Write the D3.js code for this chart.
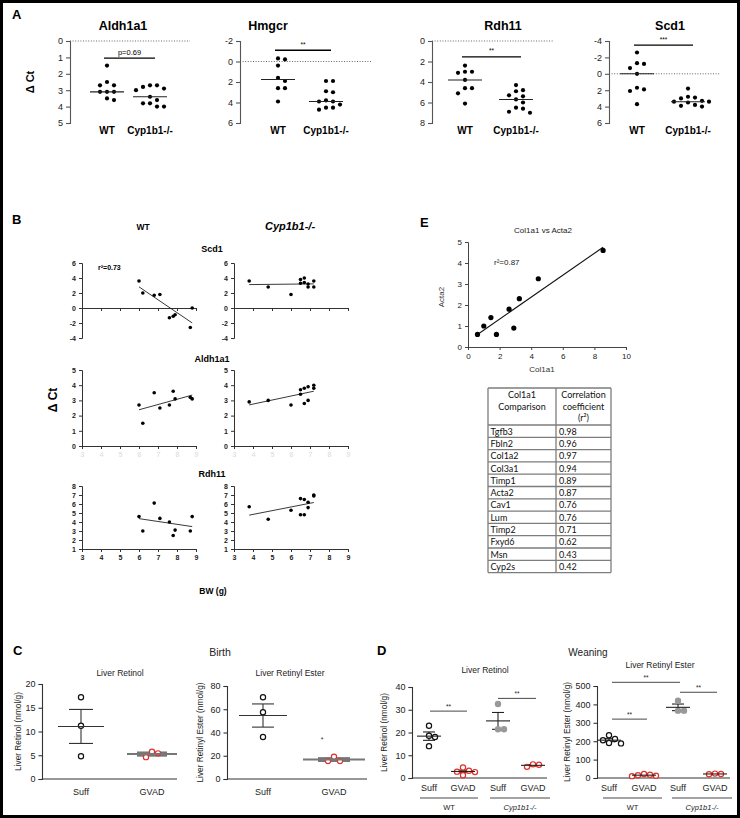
<!DOCTYPE html>
<html><head><meta charset="utf-8">
<script src="https://cdn.jsdelivr.net/npm/d3@7"></script>
<style>body{margin:0;background:#fff}svg{display:block;font-family:"Liberation Sans",Arial,sans-serif}</style>
</head><body><svg id="c" width="740" height="818"></svg>
<script>
// ---------- DATA ----------
const groupsA = ["WT", "Cyp1b1-/-"];
const genesA = ["Aldh1a1", "Hmgcr", "Rdh11", "Scd1"];
const aldh1a1WT = [1.5, 2.5, 2.7, 2.7, 3.1, 3.1, 3.1, 3.5, 3.6];
const aldh1a1KO = [2.7, 2.7, 2.8, 2.9, 3.0, 3.4, 3.6, 3.8, 3.8, 4.0, 4.0];
const hmgcrWT = [-0.3, -0.2, 0.4, 1.6, 1.9, 2.6, 2.6, 3.9];
const hmgcrKO = [1.9, 1.9, 2.9, 3.0, 3.8, 3.9, 3.9, 4.2, 4.5, 4.5, 4.7];
const rdh11WT = [2.4, 3.0, 3.0, 3.1, 3.8, 4.6, 4.6, 5.1, 6.1];
const rdh11KO = [4.3, 4.8, 4.9, 5.3, 5.4, 5.7, 6.0, 6.5, 6.6, 6.9, 7.0];
const scd1WT = [-2.6, -1.3, -1.2, -0.7, 0.0, 1.7, 1.9, 2.1, 3.7];
const scd1KO = [1.8, 2.8, 2.9, 3.0, 3.3, 3.4, 3.4, 3.5, 3.8, 3.9, 4.0];
const domainsA = [[0, 5], [-2, 6], [0, 8], [-4, 6]];
const ticksA = [[0, 1, 2, 3, 4, 5], [-2, 0, 2, 4, 6], [0, 2, 4, 6, 8], [-4, -2, 0, 2, 4, 6]];
const sigLabelsA = ["p=0.69", "**", "**", "***"];
const sigLevelsA = [1.05, -1.1, 1.55, -3.5];

// Panel B (body weight vs ΔCt)
const bwWT = [6.0, 6.2, 6.8, 7.1, 7.6, 7.8, 7.9, 8.8, 8.7];
const bwKO = [3.8, 4.8, 6.0, 6.5, 6.5, 6.7, 6.7, 6.9, 6.9, 7.2, 7.2];
const scd1CorrWT = [3.6, 2.0, 1.7, 1.8, -1.3, -1.1, -0.9, 0.0, -2.6];
const scd1CorrKO = [3.6, 2.8, 1.8, 3.8, 3.3, 4.0, 3.4, 3.2, 2.8, 3.6, 2.8];
const aldh1a1CorrWT = [2.7, 1.5, 3.5, 2.5, 2.7, 3.6, 3.1, 3.1, 3.2];
const aldh1a1CorrKO = [2.9, 3.0, 2.7, 3.7, 3.4, 3.8, 2.8, 3.9, 3.0, 4.0, 3.8];
const rdh11CorrWT = [4.6, 3.0, 6.1, 4.4, 4.0, 2.5, 3.1, 4.6, 3.0];
const rdh11CorrKO = [5.7, 4.3, 5.3, 6.6, 4.8, 6.5, 4.8, 6.2, 5.6, 7.0, 6.9];
const bwTicks = [3, 4, 5, 6, 7, 8, 9];

// Panel E
const col1a1 = [0.6, 1.0, 1.45, 1.8, 2.6, 2.9, 3.25, 4.45, 8.55];
const acta2 = [0.6, 1.0, 1.4, 0.6, 1.8, 0.9, 2.3, 3.25, 4.6];
const tableGenes = ["Tgfb3", "Fbln2", "Col1a2", "Col3a1", "Timp1", "Acta2", "Cav1", "Lum", "Timp2", "Fxyd6", "Msn", "Cyp2s"];
const tableR2 = ["0.98", "0.96", "0.97", "0.94", "0.89", "0.87", "0.76", "0.76", "0.71", "0.62", "0.43", "0.42"];

// Panel C (birth)
const dietGroups = ["Suff", "GVAD"];
const birthRetinolSuff = [17.2, 11.2, 4.8];
const birthRetinolGVAD = [5.75, 4.6, 5.4];
const birthEsterSuff = [70.3, 57.4, 36.1];
const birthEsterGVAD = [19.2, 15.5, 15.5];

// Panel D (weaning)
const weanRetinolWTSuff = [23.0, 18.6, 18.0, 14.0];
const weanRetinolWTGVAD = [4.6, 3.2, 2.8, 2.6, 1.2];
const weanRetinolKOSuff = [32.5, 21.4, 21.4];
const weanRetinolKOGVAD = [6.0, 5.8, 4.9];
const weanEsterWTSuff = [233, 212, 205, 190, 188];
const weanEsterWTGVAD = [22, 18, 15, 12, 10];
const weanEsterKOSuff = [420, 366, 366];
const weanEsterKOGVAD = [24, 22, 20];

// ---------- HELPERS ----------
const svg = d3.select("#c");
svg.append("rect").attr("width", 740).attr("height", 818).attr("fill", "#fff");

function txt(g, x, y, s, o = {}) {
  const t = g.append("text").attr("x", x).attr("y", y).text(s)
    .attr("font-size", o.size || 10)
    .attr("font-weight", o.bold ? "bold" : "normal")
    .attr("text-anchor", o.anchor || "middle")
    .attr("fill", o.fill || "#000");
  if (o.italic) t.attr("font-style", "italic");
  if (o.family) t.attr("font-family", o.family);
  if (o.rotate) t.attr("transform", `rotate(-90,${x},${y})`);
  return t;
}
function styleAxis(a, color, fs, bold, width) {
  a.select(".domain").attr("stroke", color).attr("stroke-width", width || 1);
  a.selectAll(".tick line").attr("stroke", color).attr("stroke-width", width || 1);
  a.selectAll(".tick text").attr("font-size", fs).attr("fill", "#222")
    .attr("font-weight", bold ? "bold" : "normal")
    .attr("font-family", '"Liberation Sans", Arial, sans-serif');
}
function swarm(vals, y, cx, step, minD) {
  const pts = vals.map(v => ({ v, y: y(v) })).sort((a, b) => a.y - b.y);
  const placed = [];
  pts.forEach(p => {
    for (let k = 0; k < 30; k++) {
      const off = k === 0 ? 0 : (k % 2 ? 1 : -1) * Math.ceil(k / 2) * step;
      const x = cx + off;
      if (placed.every(q => Math.hypot(q.x - x, q.y - p.y) >= minD)) { p.x = x; placed.push(p); break; }
    }
  });
  return placed;
}
function fit(xs, ys) {
  const mx = d3.mean(xs), my = d3.mean(ys);
  let sxy = 0, sxx = 0;
  xs.forEach((x, i) => { sxy += (x - mx) * (ys[i] - my); sxx += (x - mx) * (x - mx); });
  const b = sxy / sxx, a = my - b * mx;
  const x0 = d3.min(xs), x1 = d3.max(xs);
  return [[x0, a + b * x0], [x1, a + b * x1]];
}

// ---------- PANEL A ----------
txt(svg, 12, 19, "A", { size: 13, bold: true, anchor: "start" });
txt(svg, 34, 82, "Δ Ct", { size: 11, bold: true, rotate: true });
const layoutA = [
  { ax: 70, wt: 107, ko: 150, tx: 123, end: 190 },
  { ax: 240, wt: 278, ko: 326, tx: 268, end: 372 },
  { ax: 432, wt: 465, ko: 516, tx: 503, end: 553 },
  { ax: 609, wt: 637, ko: 688, tx: 670, end: 720 }
];
const dataA = [[aldh1a1WT, aldh1a1KO], [hmgcrWT, hmgcrKO], [rdh11WT, rdh11KO], [scd1WT, scd1KO]];
genesA.forEach((gene, i) => {
  const L = layoutA[i];
  const g = svg.append("g");
  const y = d3.scaleLinear().domain(domainsA[i]).range([41, 123]);
  const x = d3.scalePoint().domain(groupsA).range([L.wt, L.ko]);
  txt(g, L.tx, 30, gene, { size: 12.5, bold: true });
  g.append("line").attr("x1", L.ax).attr("x2", L.end).attr("y1", y(0)).attr("y2", y(0))
    .attr("stroke", "#666").attr("stroke-dasharray", "1,1.6");
  const a = g.append("g").attr("transform", `translate(${L.ax},0)`)
    .call(d3.axisLeft(y).tickValues(ticksA[i]).tickSize(4).tickFormat(d => String(d)));
  styleAxis(a, "#555", 9, false, 1.1);
  groupsA.forEach((grp, j) => {
    const vals = dataA[i][j];
    const cx = x(grp);
    swarm(vals, y, cx, 7, 5.2).forEach(p => {
      g.append("circle").attr("cx", p.x).attr("cy", p.y).attr("r", 2.1).attr("fill", "#000");
    });
    const med = d3.median(vals);
    g.append("line").attr("x1", cx - 17).attr("x2", cx + 17).attr("y1", y(med)).attr("y2", y(med))
      .attr("stroke", "#222").attr("stroke-width", 1.1);
    txt(g, cx, 134, grp, { size: 10, bold: true });
  });
  const sy = y(sigLevelsA[i]);
  g.append("line").attr("x1", x(groupsA[0]) - 3).attr("x2", x(groupsA[1]) + 5).attr("y1", sy).attr("y2", sy)
    .attr("stroke", "#000").attr("stroke-width", 1.3);
  txt(g, (x(groupsA[0]) + x(groupsA[1])) / 2 + 1, sy - 3.5, sigLabelsA[i], { size: i === 0 ? 7.5 : 6.5 });
});

// ---------- PANEL B ----------
txt(svg, 12, 224, "B", { size: 13, bold: true, anchor: "start" });
txt(svg, 143, 230, "WT", { size: 8.5, bold: true });
txt(svg, 290, 230, "Cyp1b1-/-", { size: 11, bold: true, italic: true });
txt(svg, 57, 400, "Δ Ct", { size: 12, bold: true, rotate: true });
txt(svg, 213, 594, "BW (g)", { size: 8.5, bold: true });
const rowsB = [
  { name: "Scd1", ty: 252, dom: [-4, 6], rng: [338, 263], ticks: [-4, -2, 0, 2, 4, 6], xAt: 0, wt: scd1CorrWT, ko: scd1CorrKO, lab: false, r2: "r²=0.73" },
  { name: "Aldh1a1", ty: 362, dom: [0, 5], rng: [446, 370], ticks: [0, 1, 2, 3, 4, 5], xAt: 0, wt: aldh1a1CorrWT, ko: aldh1a1CorrKO, lab: "faint" },
  { name: "Rdh11", ty: 477, dom: [1, 8], rng: [549, 486], ticks: [1, 2, 3, 4, 5, 6, 7, 8], xAt: 1, wt: rdh11CorrWT, ko: rdh11CorrKO, lab: true }
];
rowsB.forEach(R => {
  txt(svg, 212, R.ty, R.name, { size: 9, bold: true });
  [[82, bwWT, R.wt], [234, bwKO, R.ko]].forEach(([ax, xs, ys], k) => {
    const g = svg.append("g");
    const x = d3.scaleLinear().domain([3, 9]).range([ax, ax + 114]);
    const y = d3.scaleLinear().domain(R.dom).range(R.rng);
    const ya = g.append("g").attr("transform", `translate(${ax},0)`)
      .call(d3.axisLeft(y).tickValues(R.ticks).tickSize(3).tickFormat(d => String(d)));
    styleAxis(ya, "#333", 7, true);
    const xa = g.append("g").attr("transform", `translate(0,${y(R.xAt)})`)
      .call(d3.axisBottom(x).tickValues(bwTicks).tickSize(3).tickFormat(d => String(d)));
    styleAxis(xa, "#333", 7, true);
    if (!R.lab) xa.selectAll(".tick text").remove();
    if (R.lab === "faint") xa.selectAll(".tick text").attr("fill", "#e4e4e4");
    const f = fit(xs, ys);
    g.append("line").attr("x1", x(f[0][0])).attr("y1", y(f[0][1])).attr("x2", x(f[1][0])).attr("y2", y(f[1][1]))
      .attr("stroke", "#222").attr("stroke-width", 0.9);
    xs.forEach((xv, i) => g.append("circle").attr("cx", x(xv)).attr("cy", y(ys[i])).attr("r", 1.8).attr("fill", "#000"));
    if (k === 0 && R.r2) txt(g, 98, 270, R.r2, { size: 7, bold: true, anchor: "start" });
  });
});

// ---------- PANEL E ----------
txt(svg, 420, 227, "E", { size: 13, bold: true, anchor: "start" });
{
  const g = svg.append("g");
  const x = d3.scaleLinear().domain([0, 10]).range([468, 626]);
  const y = d3.scaleLinear().domain([0, 5]).range([347, 242]);
  txt(g, 543, 233, "Col1a1 vs Acta2", { size: 8, fill: "#222" });
  const ya = g.append("g").attr("transform", "translate(468,0)").call(d3.axisLeft(y).ticks(5).tickSize(3));
  styleAxis(ya, "#444", 8);
  const xa = g.append("g").attr("transform", "translate(0,347)").call(d3.axisBottom(x).tickValues([0, 2, 4, 6, 8, 10]).tickSize(3));
  styleAxis(xa, "#444", 8);
  txt(g, 542, 372, "Col1a1", { size: 8, fill: "#333" });
  txt(g, 444, 297, "Acta2", { size: 8, fill: "#333", rotate: true });
  txt(g, 494, 265, "r²=0.87", { size: 8, fill: "#222", anchor: "start" });
  const f = fit(col1a1, acta2);
  g.append("line").attr("x1", x(f[0][0])).attr("y1", y(f[0][1])).attr("x2", x(f[1][0])).attr("y2", y(f[1][1]))
    .attr("stroke", "#111").attr("stroke-width", 1.1);
  col1a1.forEach((v, i) => g.append("circle").attr("cx", x(v)).attr("cy", y(acta2[i])).attr("r", 2.6).attr("fill", "#000"));
}
// table
{
  const g = svg.append("g");
  const L = 488, M = 556, R = 611, top = 388, hdr = 425, rh = 12.3;
  const bottom = hdr + rh * tableGenes.length;
  const ln = (x1, y1, x2, y2) => g.append("line").attr("x1", x1).attr("y1", y1).attr("x2", x2).attr("y2", y2)
    .attr("stroke", "#7d7d7d").attr("stroke-width", 1.3);
  ln(L, top, R, top); ln(L, hdr, R, hdr); ln(L, top, L, bottom); ln(M, top, M, bottom); ln(R, top, R, bottom);
  tableGenes.forEach((_, i) => ln(L, hdr + rh * (i + 1), R, hdr + rh * (i + 1)));
  const tf = '"Lato", "Open Sans", sans-serif';
  txt(g, (L + M) / 2, 398, "Col1a1", { size: 9, family: tf, fill: "#111" });
  txt(g, (L + M) / 2, 409.5, "Comparison", { size: 9, family: tf, fill: "#111" });
  txt(g, (M + R) / 2, 398, "Correlation", { size: 9, family: tf, fill: "#111" });
  txt(g, (M + R) / 2, 409.5, "coefficient", { size: 9, family: tf, fill: "#111" });
  txt(g, (M + R) / 2, 421, "(r²)", { size: 9, family: tf, fill: "#111" });
  tableGenes.forEach((gn, i) => {
    const by = hdr + rh * i + 9.6;
    txt(g, L + 2.5, by, gn, { size: 9, family: tf, anchor: "start", fill: "#111" });
    txt(g, M + 3, by, tableR2[i], { size: 9, family: tf, anchor: "start", fill: "#111" });
  });
}

// ---------- PANELS C & D ----------
const styles = {
  wt: { fill: "#fff", stroke: "#111" },
  ko: { fill: "#999", stroke: "#999" },
  gv: { fill: "#fff", stroke: "#e0302a" }
};
function retPlot(cfg) {
  const g = svg.append("g");
  const y = d3.scaleLinear().domain(cfg.dom).range([cfg.bottom, cfg.top]);
  txt(g, cfg.tx, cfg.ty, cfg.title, { size: 8.5, fill: "#222" });
  const ya = g.append("g").attr("transform", `translate(${cfg.ax},0)`)
    .call(d3.axisLeft(y).tickValues(cfg.ticks).tickSize(3.5).tickFormat(d => String(d)));
  styleAxis(ya, "#333", 9, false, 1.1);
  g.append("line").attr("x1", cfg.ax).attr("x2", cfg.xEnd).attr("y1", y(0)).attr("y2", y(0))
    .attr("stroke", "#333").attr("stroke-width", 1.1);
  txt(g, cfg.ylx, (cfg.bottom + cfg.top) / 2, cfg.ylabel, { size: 8.3, fill: "#222", rotate: true });
  cfg.series.forEach(s => {
    const m = d3.mean(s.vals), sem = d3.deviation(s.vals) / Math.sqrt(s.vals.length);
    const st = styles[s.style];
    const lc = s.lineColor || "#222", lw = s.lw || 1.1;
    g.append("line").attr("x1", s.cx).attr("x2", s.cx).attr("y1", y(m - sem)).attr("y2", y(m + sem)).attr("stroke", lc).attr("stroke-width", lw);
    [m - sem, m + sem].forEach(v => g.append("line").attr("x1", s.cx - s.cap).attr("x2", s.cx + s.cap)
      .attr("y1", y(v)).attr("y2", y(v)).attr("stroke", lc).attr("stroke-width", lw));
    swarm(s.vals, y, s.cx, s.step || 6, 6).forEach(p => {
      g.append("circle").attr("cx", p.x).attr("cy", p.y).attr("r", 2.6)
        .attr("fill", st.fill).attr("stroke", st.stroke).attr("stroke-width", 1.2);
    });
    g.append("line").attr("x1", s.cx - s.half).attr("x2", s.cx + s.half).attr("y1", y(m)).attr("y2", y(m))
      .attr("stroke", lc).attr("stroke-width", lw);
    txt(g, s.cx, cfg.labY, s.label, { size: 9, fill: "#222" });
  });
  (cfg.sig || []).forEach(sg => {
    g.append("line").attr("x1", sg.x1).attr("x2", sg.x2).attr("y1", y(sg.v)).attr("y2", y(sg.v)).attr("stroke", "#333").attr("stroke-width", 0.9);
    txt(g, (sg.x1 + sg.x2) / 2, y(sg.v) - 2.5, sg.t, { size: 6.5, fill: "#222" });
  });
  (cfg.groupsUnder || []).forEach(gu => {
    g.append("line").attr("x1", gu.x1).attr("x2", gu.x2).attr("y1", 798).attr("y2", 798).attr("stroke", "#333").attr("stroke-width", 0.9);
    txt(g, (gu.x1 + gu.x2) / 2, 810, gu.t, { size: 7.5, fill: "#222", italic: gu.t !== "WT" });
  });
  return y;
}

txt(svg, 13, 655, "C", { size: 13, bold: true, anchor: "start" });
txt(svg, 220, 656, "Birth", { size: 10.5, fill: "#222" });
retPlot({ title: "Liver Retinol", tx: 120, ty: 676, ax: 42, xEnd: 177, dom: [0, 20], bottom: 779, top: 684,
  ticks: [0, 5, 10, 15, 20], ylabel: "Liver Retinol (nmol/g)", ylx: 21, labY: 795,
  series: [
    { vals: birthRetinolSuff, style: "wt", cx: 81, half: 23, cap: 12, label: dietGroups[0], lineColor: "#333" },
    { vals: birthRetinolGVAD, style: "gv", cx: 152, half: 25, cap: 15, label: dietGroups[1], lineColor: "#777", lw: 2 }
  ] });
const yCE = retPlot({ title: "Liver Retinyl Ester", tx: 290, ty: 676, ax: 227, xEnd: 367, dom: [0, 80], bottom: 779, top: 686,
  ticks: [0, 20, 40, 60, 80], ylabel: "Liver Retinyl Ester (nmol/g)", ylx: 203, labY: 795,
  series: [
    { vals: birthEsterSuff, style: "wt", cx: 263, half: 24, cap: 11, label: dietGroups[0], lineColor: "#333" },
    { vals: birthEsterGVAD, style: "gv", cx: 334, half: 31, cap: 16, label: dietGroups[1], lineColor: "#777", lw: 2 }
  ] });
txt(svg, 322, yCE(32), "*", { size: 7, fill: "#333" });

txt(svg, 377, 655, "D", { size: 13, bold: true, anchor: "start" });
txt(svg, 588, 656, "Weaning", { size: 10, fill: "#222" });
retPlot({ title: "Liver Retinol", tx: 485, ty: 673, ax: 412, xEnd: 547, dom: [0, 40], bottom: 778, top: 687,
  ticks: [0, 10, 20, 30, 40], ylabel: "Liver Retinol (nmol/g)", ylx: 387, labY: 791,
  series: [
    { vals: weanRetinolWTSuff, style: "wt", cx: 429, half: 12, cap: 6, label: dietGroups[0] },
    { vals: weanRetinolWTGVAD, style: "gv", cx: 463, half: 12, cap: 6, label: dietGroups[1] },
    { vals: weanRetinolKOSuff, style: "ko", cx: 498, half: 12, cap: 6, label: dietGroups[0] },
    { vals: weanRetinolKOGVAD, style: "gv", cx: 533, half: 12, cap: 6, label: dietGroups[1] }
  ],
  sig: [{ x1: 430, x2: 467, v: 29.4, t: "**" }, { x1: 498, x2: 536, v: 35, t: "**" }],
  groupsUnder: [{ x1: 420, x2: 478, t: "WT" }, { x1: 490, x2: 550, t: "Cyp1b1-/-" }] });
retPlot({ title: "Liver Retinyl Ester", tx: 660, ty: 668, ax: 597, xEnd: 730, dom: [0, 500], bottom: 778, top: 686,
  ticks: [0, 100, 200, 300, 400, 500], ylabel: "Liver Retinyl Ester (nmol/g)", ylx: 570, labY: 791,
  series: [
    { vals: weanEsterWTSuff, style: "wt", cx: 609, half: 12, cap: 6, label: dietGroups[0] },
    { vals: weanEsterWTGVAD, style: "gv", cx: 644, half: 12, cap: 6, label: dietGroups[1] },
    { vals: weanEsterKOSuff, style: "ko", cx: 678, half: 12, cap: 6, label: dietGroups[0] },
    { vals: weanEsterKOGVAD, style: "gv", cx: 715, half: 12, cap: 6, label: dietGroups[1] }
  ],
  sig: [{ x1: 612, x2: 680, v: 520, t: "**" }, { x1: 680, x2: 717, v: 466, t: "**" }, { x1: 612, x2: 647, v: 320, t: "**" }],
  groupsUnder: [{ x1: 603, x2: 662, t: "WT" }, { x1: 672, x2: 732, t: "Cyp1b1-/-" }] });

// outer frame
svg.append("rect").attr("x", 1.5).attr("y", 1.5).attr("width", 737).attr("height", 815)
  .attr("fill", "none").attr("stroke", "#000").attr("stroke-width", 3);
</script></body></html>
